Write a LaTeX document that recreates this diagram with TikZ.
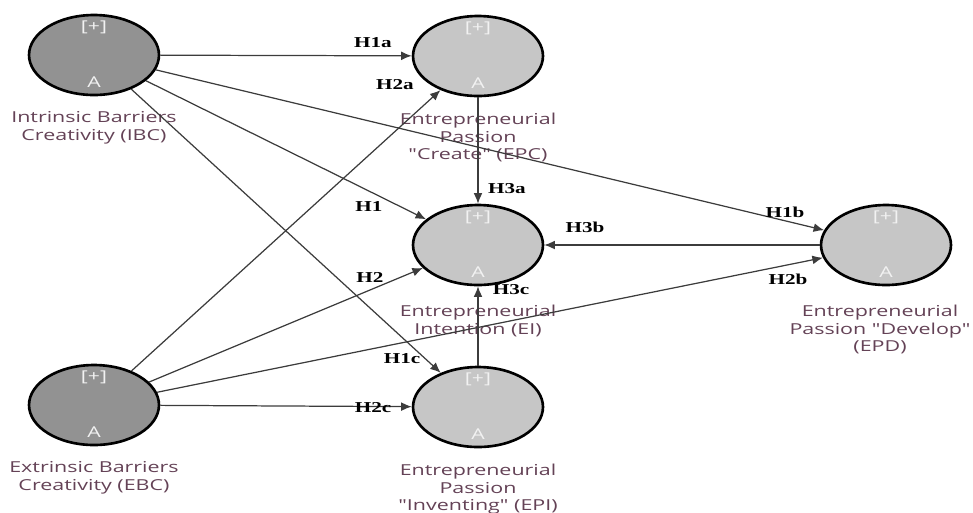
\documentclass[tikz,border=0pt]{standalone}
\usepackage{fontspec}
\newfontfamily\capfont[FakeStretch=1.42]{Open Sans}
\newfontfamily\hypfont[FakeStretch=1.4]{Liberation Serif}
\usetikzlibrary{shapes.geometric,arrows.meta,positioning}
\definecolor{darkfill}{RGB}{146,146,146}
\definecolor{lightfill}{RGB}{198,198,198}
\definecolor{captext}{RGB}{100,66,86}
\definecolor{linegray}{RGB}{60,60,60}

\begin{document}
\begin{tikzpicture}[
    x=0.02cm, y=-0.02cm,
    latent/.style={ellipse, draw=black, line width=1.5pt, minimum width=2.6cm, minimum height=1.6cm, inner sep=0pt},
    outer/.style={latent, fill=darkfill},
    inner/.style={latent, fill=lightfill},
    tagtxt/.style={font=\capfont\fontsize{8.5}{9}\selectfont, text=white!90!gray, inner sep=0pt},
    captxt/.style={font=\capfont\fontsize{8.6}{10.2}\selectfont, text=captext, align=center, inner sep=0pt},
    hyp/.style={font=\hypfont\bfseries\fontsize{8.6}{9}\selectfont, inner sep=0pt},
    arrow/.style={-{Latex[length=6pt,width=5pt]}, draw=linegray, line width=0.7pt}
]
    \useasboundingbox (0,0) rectangle (973,512);

    % constructs
    \node[outer] (ibc) at (94,55) {};
    \node[inner] (epc) at (478,56) {};
    \node[inner] (ei) at (478,245) {};
    \node[inner] (epd) at (886,245) {};
    \node[outer] (ebc) at (94,405) {};
    \node[inner] (epi) at (478,407) {};

    \foreach \c in {ibc,epc,ei,epd,ebc,epi} {
        \node[tagtxt] (\c-plus) at ([yshift=0.56cm]\c.center) {[+]};
        \node[tagtxt] (\c-a) at ([yshift=-0.54cm]\c.center) {A};
    }

    \node[captxt, below=0.3cm of ibc] (ibc-cap) {Intrinsic Barriers\\Creativity (IBC)};
    \node[captxt, below=0.3cm of epc] (epc-cap) {Entrepreneurial\\Passion\\"Create" (EPC)};
    \node[captxt, below=0.36cm of ei] (ei-cap) {Entrepreneurial\\Intention (EI)};
    \node[captxt, below=0.36cm of epd, xshift=-0.12cm] (epd-cap) {Entrepreneurial\\Passion "Develop"\\(EPD)};
    \node[captxt, below=0.3cm of ebc] (ebc-cap) {Extrinsic Barriers\\Creativity (EBC)};
    \node[captxt, below=0.3cm of epi] (epi-cap) {Entrepreneurial\\Passion\\"Inventing" (EPI)};

    % paths
    \draw[arrow] (ibc) -- (epc);
    \draw[arrow] (ibc) -- (ei);
    \draw[arrow] (ibc) -- (epd);
    \draw[arrow] (ibc) -- (epi);
    \draw[arrow] (ebc) -- (epc);
    \draw[arrow] (ebc) -- (ei);
    \draw[arrow] (ebc) -- (epd);
    \draw[arrow] (ebc) -- (epi);
    \draw[arrow] (epc) -- (ei);
    \draw[arrow] (epd) -- (ei);
    \draw[arrow] (epi) -- (ei);

    % hypotheses
    \node[hyp] (h1a) at (373,43) {H1a};
    \node[hyp] (h2a) at (395,85) {H2a};
    \node[hyp] (h3a) at (507,189) {H3a};
    \node[hyp] (h1) at (369,207) {H1};
    \node[hyp] (h2) at (370,277) {H2};
    \node[hyp] (h3b) at (585,227) {H3b};
    \node[hyp] (h3c) at (511,290) {H3c};
    \node[hyp] (h1b) at (785,212) {H1b};
    \node[hyp] (h2b) at (788,279) {H2b};
    \node[hyp] (h1c) at (402,359) {H1c};
    \node[hyp] (h2c) at (373,408) {H2c};
\end{tikzpicture}
\end{document}
